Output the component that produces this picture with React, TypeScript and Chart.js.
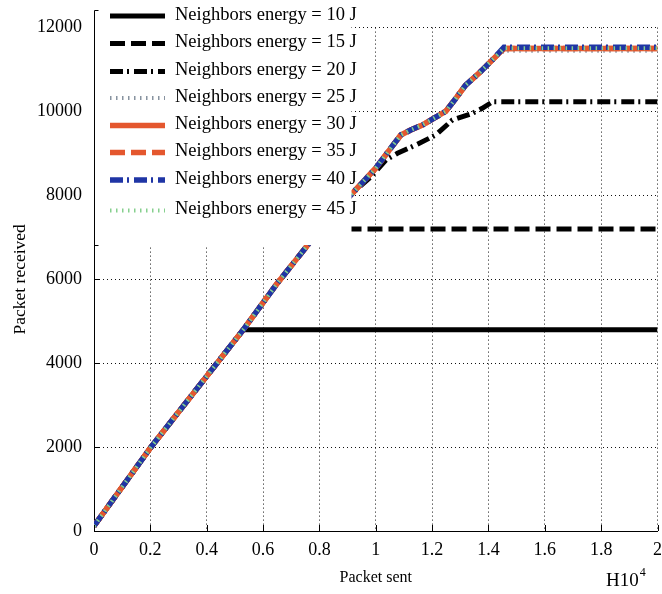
import React, { useEffect, useRef } from 'react';
import { Chart, registerables } from 'chart.js';

Chart.register(...registerables);

// Legend entries, one per neighbour energy level
const seriesNames = [
  'Neighbors energy = 10 J',
  'Neighbors energy = 15 J',
  'Neighbors energy = 20 J',
  'Neighbors energy = 25 J',
  'Neighbors energy = 30 J',
  'Neighbors energy = 35 J',
  'Neighbors energy = 40 J',
  'Neighbors energy = 45 J',
];

// Axis ticks (packets sent are in units of 10^4)
const xTickValues = [0, 0.2, 0.4, 0.6, 0.8, 1, 1.2, 1.4, 1.6, 1.8, 2];
const xTickLabels = ['0', '0.2', '0.4', '0.6', '0.8', '1', '1.2', '1.4', '1.6', '1.8', '2'];
const yTickValues = [0, 2000, 4000, 6000, 8000, 10000, 12000];
const yTickLabels = ['0', '2000', '4000', '6000', '8000', '10000', '12000'];

// Common delivery curve shared by all energy levels until they saturate
const rampSent = [0, 0.2, 0.53, 0.65, 0.765, 0.81, 0.906, 1.0, 1.048, 1.089, 1.124, 1.166, 1.207, 1.248, 1.284, 1.319, 1.366, 1.414, 1.455];
const rampReceived = [120, 1980, 4800, 5900, 6870, 7200, 7970, 8650, 9080, 9440, 9560, 9680, 9840, 10000, 10310, 10630, 10910, 11230, 11500];

// 20 J branch after it leaves the common curve
const branch20Sent = [0.92, 0.983, 1.036, 1.077, 1.142, 1.213, 1.272, 1.343, 1.378, 1.414];
const branch20Received = [8070, 8446, 8844, 9003, 9201, 9440, 9797, 9957, 10076, 10230];

// Point where each series saturates, and the level it holds afterwards
const saturationSent = [0.53, 0.81, 1.414, 1.455, 1.455, 1.455, 1.455, 1.455];
const saturationReceived = [4800, 7200, 10230, 11450, 11500, 11500, 11530, 11510];

const seriesColors = ['#000000', '#000000', '#000000', '#8893a0', '#e4572e', '#e4572e', '#1f35a5', '#86d08e'];
const seriesDashes: number[][] = [[], [15, 6], [13, 4, 2, 5], [1.5, 4.5], [], [15, 6], [13, 4, 2, 5], [1.5, 4.5]];
const seriesWidths = [5, 5, 5, 4, 5.5, 5.5, 5.5, 4];

const SERIF = '"Liberation Serif", "Times New Roman", serif';

function buildPoints(i: number) {
  const pts: { x: number; y: number }[] = [];
  const limit = i === 2 ? branch20Sent[0] : saturationSent[i];
  rampSent.forEach((x, k) => {
    if (x < limit) pts.push({ x, y: rampReceived[k] });
  });
  if (i === 2) {
    branch20Sent.forEach((x, k) => pts.push({ x, y: branch20Received[k] }));
  } else {
    pts.push({ x: saturationSent[i], y: saturationReceived[i] });
  }
  pts.push({ x: xTickValues[xTickValues.length - 1], y: saturationReceived[i] });
  return pts;
}

const legendRowY = [15, 42.5, 70.5, 97, 124.5, 151.5, 179, 209.5];

const decorations = {
  id: 'decorations',
  afterDraw(chart: any) {
    const { ctx, chartArea, scales } = chart;
    const xs = scales.x;
    const ys = scales.y;
    ctx.save();

    // inward tick marks
    ctx.strokeStyle = '#000';
    ctx.lineWidth = 1;
    ctx.setLineDash([]);
    ctx.beginPath();
    xTickValues.forEach((v) => {
      const px = Math.round(xs.getPixelForValue(v)) + 0.5;
      ctx.moveTo(px, chartArea.bottom);
      ctx.lineTo(px, chartArea.bottom - 6);
    });
    yTickValues.forEach((v) => {
      const py = Math.round(ys.getPixelForValue(v)) + 0.5;
      ctx.moveTo(chartArea.left, py);
      ctx.lineTo(chartArea.left + 6, py);
    });
    ctx.stroke();

    // legend box
    const boxLeft = Math.round(chartArea.left) + 0.5;
    const boxTop = 10.5;
    const boxRight = 351;
    const boxBottom = 245.5;
    ctx.fillStyle = '#ffffff';
    ctx.fillRect(boxLeft + 0.5, boxTop - 0.5, boxRight - boxLeft, boxBottom - boxTop);
    ctx.beginPath();
    ctx.moveTo(boxLeft + 4, boxTop);
    ctx.lineTo(boxLeft, boxTop);
    ctx.lineTo(boxLeft, boxBottom);
    ctx.lineTo(boxLeft + 4, boxBottom);
    ctx.stroke();

    ctx.font = '18.5px ' + SERIF;
    ctx.textBaseline = 'middle';
    ctx.textAlign = 'left';
    seriesNames.forEach((name, i) => {
      const y = legendRowY[i];
      ctx.save();
      ctx.strokeStyle = seriesColors[i];
      ctx.lineWidth = seriesWidths[i];
      ctx.lineCap = 'butt';
      ctx.setLineDash(seriesDashes[i]);
      ctx.beginPath();
      ctx.moveTo(110, y + 1);
      ctx.lineTo(165, y + 1);
      ctx.stroke();
      ctx.restore();
      ctx.fillStyle = '#000';
      ctx.fillText(name, 175, y);
    });

    // axis titles
    ctx.fillStyle = '#000';
    ctx.textAlign = 'center';
    ctx.textBaseline = 'middle';
    ctx.font = '16px ' + SERIF;
    ctx.fillText('Packet sent', (chartArea.left + chartArea.right) / 2, 578);
    ctx.save();
    ctx.font = '17.5px ' + SERIF;
    ctx.translate(20, (chartArea.top + chartArea.bottom) / 2);
    ctx.rotate(-Math.PI / 2);
    ctx.fillText('Packet received', 0, 0);
    ctx.restore();

    // exponent of the x axis
    ctx.textAlign = 'left';
    ctx.textBaseline = 'alphabetic';
    ctx.font = '19px ' + SERIF;
    ctx.fillText('H10', 606, 586);
    const w = ctx.measureText('H10').width;
    ctx.font = '12px ' + SERIF;
    ctx.fillText('4', 606 + w + 1, 576);

    ctx.restore();
  },
};

export default function App() {
  const canvasRef = useRef<HTMLCanvasElement | null>(null);

  useEffect(() => {
    if (!canvasRef.current) return;
    const datasets = seriesNames.map((name, i) => ({
      label: name,
      data: buildPoints(i),
      borderColor: seriesColors[i],
      backgroundColor: seriesColors[i],
      borderWidth: seriesWidths[i],
      borderDash: seriesDashes[i],
      borderCapStyle: 'butt' as const,
      borderJoinStyle: 'miter' as const,
      pointRadius: 0,
      tension: 0,
      fill: false,
      order: seriesNames.length - 1 - i,
    }));

    const gridColor = (c: any) => (c.tick && c.tick.value === 0 ? 'rgba(0,0,0,0)' : '#111111');

    const chart = new Chart(canvasRef.current, {
      type: 'line',
      data: { datasets },
      plugins: [decorations],
      options: {
        responsive: false,
        devicePixelRatio: 1,
        animation: false,
        layout: { padding: { left: 0, right: 4.5, top: 27.6, bottom: 0 } },
        plugins: { legend: { display: false }, tooltip: { enabled: false } },
        scales: {
          x: {
            type: 'linear',
            min: 0,
            max: 2,
            afterBuildTicks: (s: any) => {
              s.ticks = xTickValues.map((v) => ({ value: v }));
            },
            afterFit: (s: any) => {
              s.height = 63;
              s.paddingLeft = 0;
              s.paddingRight = 0;
            },
            ticks: {
              autoSkip: false,
              maxRotation: 0,
              padding: 8,
              color: '#000',
              font: { family: SERIF, size: 18 },
              callback: (_v: any, idx: number) => xTickLabels[idx],
            },
            grid: { color: gridColor, lineWidth: 1, drawTicks: false },
            border: { display: true, color: '#000', width: 1, dash: [1, 3] },
          },
          y: {
            type: 'linear',
            min: 0,
            max: 12000,
            afterBuildTicks: (s: any) => {
              s.ticks = yTickValues.map((v) => ({ value: v }));
            },
            afterFit: (s: any) => {
              s.width = 94;
              s.paddingTop = 0;
              s.paddingBottom = 0;
            },
            ticks: {
              autoSkip: false,
              padding: 12,
              color: '#000',
              font: { family: SERIF, size: 18 },
              callback: (_v: any, idx: number) => yTickLabels[idx],
            },
            grid: { color: gridColor, lineWidth: 1, drawTicks: false },
            border: { display: true, color: '#000', width: 1, dash: [1, 3] },
          },
        },
      },
    });
    return () => chart.destroy();
  }, []);

  return (
    <div style={{ position: 'absolute', left: 0, top: 0, width: 662, height: 594, background: '#fff' }}>
      <canvas ref={canvasRef} width={662} height={594} style={{ display: 'block', width: 662, height: 594 }} />
    </div>
  );
}
